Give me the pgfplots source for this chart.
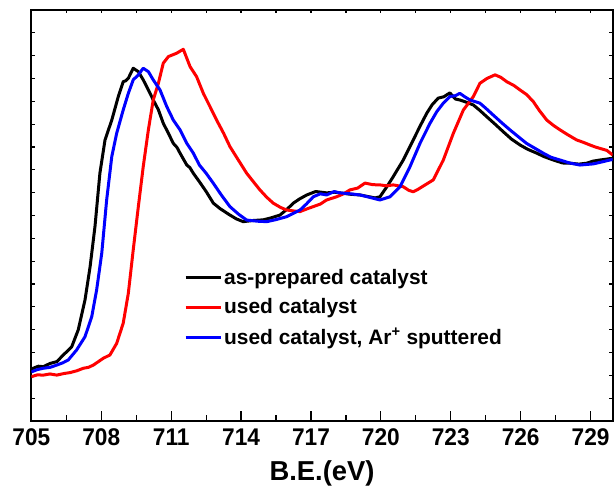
\documentclass[border=0pt]{standalone}
\usepackage{fontspec}
\setmainfont{Liberation Sans}
\newfontfamily\tickfont[FakeStretch=0.94]{Liberation Sans}
\usepackage{pgfplots}
\pgfplotsset{compat=1.18}
\usetikzlibrary{calc}

% Fe 2p XPS spectra
\pgfplotstableread{
x y
705.00 2.28
705.08 2.31
705.30 2.40
705.51 2.38
705.80 2.52
706.09 2.60
706.37 2.89
706.73 3.25
707.01 3.99
707.30 5.30
707.52 6.76
707.73 8.53
707.94 10.85
708.16 12.31
708.45 13.18
708.73 14.21
708.94 14.86
709.05 14.90
709.16 15.01
709.37 15.45
709.59 15.30
709.80 14.94
710.02 14.50
710.23 14.06
710.45 13.63
710.66 13.04
710.88 12.60
711.09 12.16
711.25 11.98
711.38 11.73
711.67 11.21
711.80 11.10
711.95 10.85
712.21 10.48
712.50 10.05
712.81 9.54
713.10 9.30
713.52 9.02
713.80 8.85
714.09 8.73
714.50 8.78
714.95 8.81
715.30 8.90
715.67 9.02
716.00 9.30
716.24 9.54
716.50 9.72
716.82 9.90
717.20 10.05
717.67 9.99
718.00 10.02
718.24 9.99
718.70 9.93
719.10 9.90
719.50 9.82
719.75 9.77
719.96 9.82
720.25 10.25
720.53 10.70
720.96 11.43
721.39 12.31
721.70 12.95
721.97 13.48
722.20 13.85
722.46 14.14
722.70 14.20
722.96 14.37
723.20 14.10
723.39 14.06
723.70 13.95
723.97 13.84
724.25 13.60
724.54 13.33
724.90 13.00
725.25 12.67
725.60 12.35
725.97 12.09
726.30 11.90
726.69 11.73
727.00 11.58
727.40 11.43
727.80 11.30
728.12 11.29
728.50 11.25
728.83 11.29
729.10 11.38
729.40 11.43
729.70 11.47
729.95 11.51
}\asprepared

\pgfplotstableread{
x y
705.00 1.94
705.25 2.02
705.51 2.01
705.80 2.06
706.09 2.01
706.40 2.08
706.66 2.12
706.95 2.20
707.23 2.31
707.45 2.35
707.66 2.45
708.09 2.75
708.37 2.89
708.66 3.40
708.94 4.28
709.16 5.59
709.37 7.49
709.59 9.39
709.80 11.14
710.02 12.75
710.23 14.06
710.45 14.79
710.66 15.67
710.88 15.96
711.24 16.11
711.52 16.28
711.81 15.52
712.09 15.08
712.38 14.35
712.65 13.80
712.95 13.18
713.25 12.60
713.52 12.02
713.90 11.40
714.24 10.85
714.55 10.45
714.81 10.12
715.10 9.80
715.38 9.54
715.70 9.35
715.96 9.24
716.25 9.20
716.53 9.17
716.80 9.28
717.10 9.39
717.40 9.50
717.67 9.68
718.10 9.82
718.40 9.95
718.67 10.12
719.00 10.20
719.32 10.42
719.65 10.35
719.96 10.34
720.25 10.30
720.53 10.34
720.96 10.26
721.20 10.10
721.39 10.04
721.60 10.15
721.82 10.29
722.25 10.56
722.68 11.43
723.11 12.60
723.54 13.62
723.97 14.21
724.25 14.79
724.55 15.00
724.90 15.16
725.15 15.05
725.40 14.86
725.70 14.70
725.97 14.50
726.25 14.30
726.54 13.99
726.80 13.60
727.12 13.18
727.40 12.95
727.69 12.75
728.00 12.55
728.40 12.31
728.70 12.20
728.97 12.09
729.20 12.00
729.40 11.94
729.70 11.85
729.95 11.65
}\used

\pgfplotstableread{
x y
705.00 2.15
705.25 2.25
705.51 2.31
705.80 2.35
706.09 2.45
706.35 2.55
706.58 2.67
706.94 3.11
707.30 3.69
707.59 4.57
707.80 5.74
708.02 7.35
708.23 9.68
708.45 11.58
708.66 12.60
708.94 13.62
709.16 14.35
709.37 14.94
709.59 15.16
709.80 15.45
710.02 15.30
710.23 14.94
710.52 14.50
710.81 13.77
711.09 13.18
711.38 12.75
711.67 12.16
711.95 11.73
712.21 11.21
712.50 10.85
712.81 10.41
713.15 9.90
713.52 9.39
713.90 9.05
714.24 8.80
714.70 8.75
715.10 8.73
715.50 8.82
715.96 8.95
716.53 9.24
716.80 9.50
717.10 9.82
717.40 9.95
717.67 9.90
718.00 10.05
718.24 9.99
718.70 9.95
719.10 9.90
719.50 9.80
719.96 9.68
720.39 9.82
720.82 10.26
721.25 11.14
721.68 12.16
722.11 13.04
722.40 13.55
722.68 13.92
722.96 14.21
723.20 14.25
723.39 14.35
723.60 14.20
723.82 14.06
724.25 13.92
724.50 13.70
724.82 13.40
725.20 13.05
725.54 12.75
725.90 12.45
726.25 12.16
726.60 11.95
726.97 11.73
727.30 11.55
727.69 11.43
728.10 11.30
728.54 11.21
729.12 11.26
729.50 11.35
729.83 11.43
729.95 11.45
}\sputtered

\begin{document}
\begin{tikzpicture}
\pgfplotsset{
  common/.style={
    scale only axis, width=581.3bp, height=411bp,
    xmin=705, xmax=729.95, ymin=0, ymax=18,
    axis line style={line width=1.8bp},
    tick align=inside,
    every tick/.style={black, line width=1.2bp},
    xtick={705,708,...,729}, minor x tick num=1,
  },
}
% short ticks on the top and on both sides
\begin{axis}[common,
    xtick pos=right, ytick pos=both,
    ytick={1,...,17},
    xticklabels={}, yticklabels={},
    major tick length=3.5bp, minor tick length=3.5bp,
]
\end{axis}
\begin{axis}[common,
    xtick pos=left, ytick=\empty,
    major tick length=10bp, minor tick length=6bp,
    /pgf/number format/assume math mode=true,
    /pgf/number format/set thousands separator={},
    xticklabel style={font=\fontsize{24.2}{24.2}\selectfont\tickfont\bfseries, yshift=-4bp},
    xlabel={B.E.(eV)},
    xlabel style={font=\fontsize{27.5}{27.5}\selectfont\bfseries, yshift=-8bp},
    legend style={at={(axis cs:711.55,6.75)}, anchor=north west,
      draw=none, fill=none, inner sep=0pt, row sep=9bp,
      font=\fontsize{21}{25}\selectfont\bfseries},
    legend cell align=left,
    legend image code/.code={\draw[#1, line width=3bp] (0bp,0bp) -- (35bp,0bp);},
    every axis plot/.append style={line width=3bp, line join=round},
]
\coordinate (bl) at (rel axis cs:0,0);
\coordinate (tr) at (rel axis cs:1,1);
\addplot[black] table {\asprepared};
\addlegendentry{as-prepared catalyst}
\addplot[red] table {\used};
\addlegendentry{used catalyst}
\addplot[blue] table {\sputtered};
\addlegendentry{used catalyst, Ar\textsuperscript{+} sputtered}
\end{axis}
\pgfresetboundingbox
\path[use as bounding box] ($(bl)+(-31.4bp,-72bp)$) rectangle ($(tr)+(1.3bp,10bp)$);
\end{tikzpicture}
\end{document}
